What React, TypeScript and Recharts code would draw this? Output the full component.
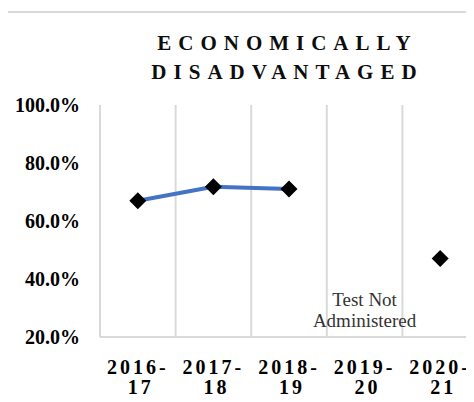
import React from "react"
import {
  LineChart,
  Line,
  XAxis,
  YAxis,
  ReferenceLine,
  ReferenceDot,
} from "recharts"

const categories = ["2016-17", "2017-18", "2018-19", "2019-20", "2020-21"]
const rates = [67.0, 71.8, 71.0, null, 47.1]
const yTicks = [20, 40, 60, 80, 100]
const noteCategory = "2019-20"
const noteLines = ["Test Not", "Administered"]

const data = categories.map((year, idx) => ({ idx, year, rate: rates[idx] }))
const boundaries = [...categories.map((_, i) => i - 0.5), categories.length - 0.5]

const SERIF = "Liberation Serif, Tinos, Times New Roman, DejaVu Serif, serif"

const Diamond = ({ cx, cy, payload }: any) => {
  if (cx == null || cy == null || payload?.rate == null) return null
  const s = 8.5
  return (
    <polygon
      points={`${cx},${cy - s} ${cx + s},${cy} ${cx},${cy + s} ${cx - s},${cy}`}
      fill="#000"
    />
  )
}

const YearTick = ({ x, y, payload }: any) => {
  const label = categories[payload.value] ?? ""
  const [a, b] = label.split("-")
  return (
    <text
      x={x}
      y={y}
      textAnchor="middle"
      style={{ fontFamily: SERIF, fontWeight: 700, fontSize: 20, letterSpacing: 3 }}
      fill="#000"
    >
      <tspan x={x} dy={35}>{a + "-"}</tspan>
      <tspan x={x + 3} dy={20}>{b}</tspan>
    </text>
  )
}

const NoteLabel = ({ viewBox }: any) => {
  const cx = viewBox.x + viewBox.width / 2
  const cy = viewBox.y + viewBox.height / 2
  return (
    <text
      x={cx}
      y={cy - 31}
      textAnchor="middle"
      style={{ fontFamily: SERIF, fontSize: 19 }}
      fill="#333"
    >
      <tspan x={cx} dy={0}>{noteLines[0]}</tspan>
      <tspan x={cx} dy={21}>{noteLines[1]}</tspan>
    </text>
  )
}

export default function App() {
  return (
    <div
      style={{
        position: "relative",
        width: 474,
        height: 402,
        margin: -8,
        overflow: "hidden",
        background: "#fff",
      }}
    >
      <div
        style={{
          position: "absolute",
          left: 6,
          top: 11,
          width: 520,
          height: 520,
          border: "2px solid #d9d9d9",
        }}
      />
      <div
        style={{
          position: "absolute",
          left: 0,
          top: 29,
          width: 575,
          textAlign: "center",
          fontFamily: SERIF,
          fontWeight: "bold",
          fontSize: 21,
          lineHeight: "29px",
          letterSpacing: 7,
          color: "#0d0d0d",
        }}
      >
        ECONOMICALLY
        <br />
        DISADVANTAGED
      </div>
      <div style={{ position: "absolute", left: 0, top: 0 }}>
        <LineChart
          width={480}
          height={402}
          data={data}
          margin={{ top: 105, right: 2, bottom: 0, left: 8 }}
        >
          {boundaries.map((b) => (
            <ReferenceLine key={b} x={b} stroke="#d9d9d9" strokeWidth={2} />
          ))}
          <XAxis
            dataKey="idx"
            type="number"
            domain={[-0.5, categories.length - 0.5]}
            ticks={categories.map((_, i) => i)}
            tick={<YearTick />}
            tickLine={false}
            tickSize={0}
            axisLine={{ stroke: "#d9d9d9", strokeWidth: 2 }}
            height={65}
            interval={0}
          />
          <YAxis
            domain={[20, 100]}
            ticks={yTicks}
            tickFormatter={(v) => `${v.toFixed(1)}%`}
            axisLine={false}
            tickLine={false}
            tickSize={0}
            tickMargin={20}
            width={92}
            tick={{
              style: { fontFamily: SERIF, fontWeight: 700, fontSize: 20 },
              fill: "#000",
            }}
          />
          <ReferenceDot
            x={categories.indexOf(noteCategory)}
            y={yTicks[0]}
            r={0}
            fill="none"
            stroke="none"
            label={<NoteLabel />}
          />
          <Line
            dataKey="rate"
            stroke="#4472C4"
            strokeWidth={4}
            dot={<Diamond />}
            activeDot={false}
            connectNulls={false}
            isAnimationActive={false}
          />
        </LineChart>
      </div>
    </div>
  )
}
